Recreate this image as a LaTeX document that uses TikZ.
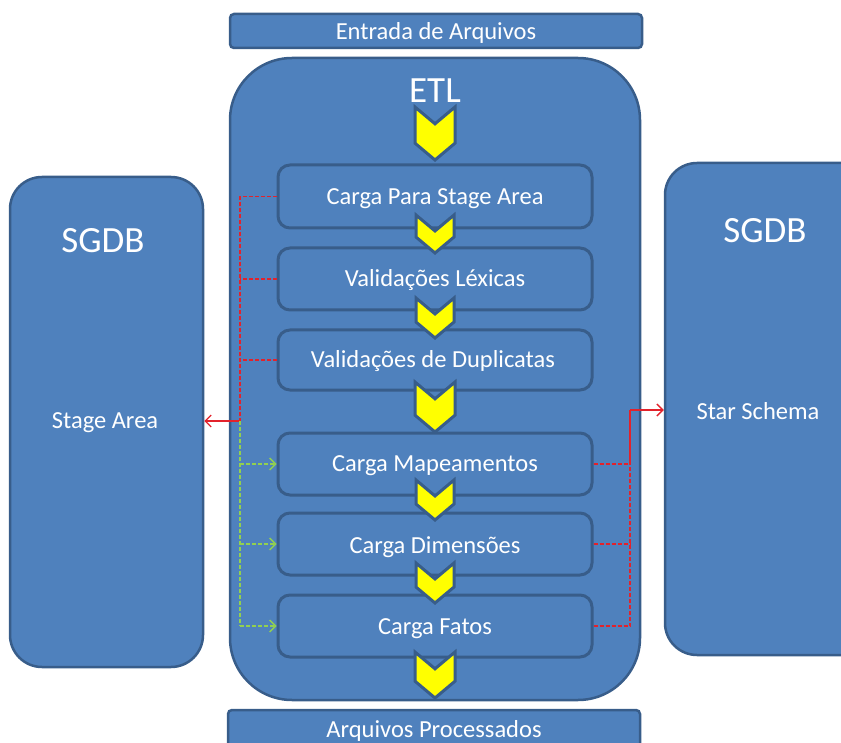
\documentclass[tikz,border=0pt]{standalone}
\usepackage{fontspec}
\setmainfont{Carlito}
\usetikzlibrary{arrows.meta}
\definecolor{boxfill}{HTML}{4F81BD}
\definecolor{boxline}{HTML}{385D8A}
\definecolor{dred}{HTML}{E3222B}
\definecolor{dgreen}{HTML}{92D050}
\definecolor{chevy}{HTML}{FFFF00}
\newcommand\mychev[4]{%
  \draw[chevstyle] ({#1-#3/2},#2) -- (#1,{#2+0.42*#3}) -- ({#1+#3/2},#2)
    -- ({#1+#3/2},{#2+#4-0.42*#3}) -- (#1,{#2+#4}) -- ({#1-#3/2},{#2+#4-0.42*#3}) -- cycle;}
\begin{document}
\begin{tikzpicture}[x=1pt,y=-1pt,
  bluebox/.style={draw=boxline,fill=boxfill,line width=2.5pt,text=white,inner sep=0pt},
  smallbox/.style={bluebox,rounded corners=4pt},
  stepbox/.style={bluebox,line width=3pt,rounded corners=12pt,minimum width=314pt,minimum height=62pt},
  chevstyle/.style={draw=boxline,fill=chevy,line width=3pt,line join=miter},
  lbl/.style={text=white,inner sep=0pt,font=\fontsize{24.5}{26}\selectfont},
  biglbl/.style={text=white,inner sep=0pt,font=\fontsize{37}{40}\selectfont},
  reddash/.style={draw=dred,line width=1.4pt,dash pattern=on 4pt off 2pt},
  greendash/.style={draw=dgreen,line width=1.4pt,dash pattern=on 4pt off 2pt},
  tip/.style={-{Straight Barb[length=6pt,width=12pt,line width=1.4pt]}}]
\useasboundingbox (0,0) rectangle (841,743);

% side boxes
\node[bluebox,rounded corners=32pt,minimum width=193pt,minimum height=490pt] (left) at (106.5,422) {};
\node[biglbl] (lsg) at (103,241) {SGDB};
\node[lbl] (lsa) at (105,423) {Stage Area};

\node[bluebox,rounded corners=32pt,minimum width=210pt,minimum height=492pt] (right) at (770,409) {};
\node[biglbl] (rsg) at (765,231) {SGDB};
\node[lbl] (rss) at (758,411) {Star Schema};

% top and bottom boxes
\node[smallbox,minimum width=412pt,minimum height=34pt] (in) at (436,31) {};
\node[lbl] (int) at (436,33) {Entrada de Arquivos};
\node[smallbox,minimum width=412pt,minimum height=40pt] (out) at (434,730) {};
\node[lbl] (outt) at (434,731) {Arquivos Processados};

% ETL container
\node[bluebox,rounded corners=62pt,minimum width=410pt,minimum height=642pt] (etl) at (435,379) {};
\node[biglbl] (etlt) at (435,91) {ETL};

% steps
\node[stepbox,minimum height=63pt] (b1) at (435,196.5) {};
\node[stepbox] (b2) at (435,279) {};
\node[stepbox,minimum height=60pt] (b3) at (435,360) {};
\node[stepbox] (b4) at (435,464) {};
\node[stepbox] (b5) at (435,544) {};
\node[stepbox] (b6) at (435,626) {};
\node[lbl] (t1) at (435,198.5) {Carga Para Stage Area};
\node[lbl] (t2) at (435,280) {Validações Léxicas};
\node[lbl] (t3) at (433,361) {Validações de Duplicatas};
\node[lbl] (t4) at (435,466) {Carga Mapeamentos};
\node[lbl] (t5) at (435,547) {Carga Dimensões};
\node[lbl] (t6) at (435,629) {Carga Fatos};

% chevrons
\mychev{435}{107}{40}{53}
\mychev{435}{215}{38}{38}
\mychev{435}{298}{38}{40}
\mychev{435}{382}{40}{50}
\mychev{435}{480}{38}{40}
\mychev{435}{563}{38}{40}
\mychev{435}{652}{40}{46}

% left connectors
\coordinate (lj) at (240,421);
\draw[reddash] (b1.west) -- (b1.west -| lj) -- (lj);
\draw[reddash] (b2.west) -- (b2.west -| lj);
\draw[reddash] (b3.west) -- (b3.west -| lj);
\draw[draw=dred,line width=1.4pt,tip] (lj) -- (left.east |- lj);
\draw[greendash] (lj) -- (lj |- b6.west);
\draw[greendash,tip] (lj |- b4.west) -- (b4.west);
\draw[greendash,tip] (lj |- b5.west) -- (b5.west);
\draw[greendash,tip] (lj |- b6.west) -- (b6.west);

% right connectors
\coordinate (rj) at (630,410);
\draw[reddash] (b4.east) -- (b4.east -| rj);
\draw[reddash] (b5.east) -- (b5.east -| rj);
\draw[reddash] (b6.east) -- (b6.east -| rj) -- (b4.east -| rj);
\draw[draw=dred,line width=1.4pt] (b4.east -| rj) -- (rj);
\draw[draw=dred,line width=1.4pt,tip] (rj) -- (right.west |- rj);
\end{tikzpicture}
\end{document}
